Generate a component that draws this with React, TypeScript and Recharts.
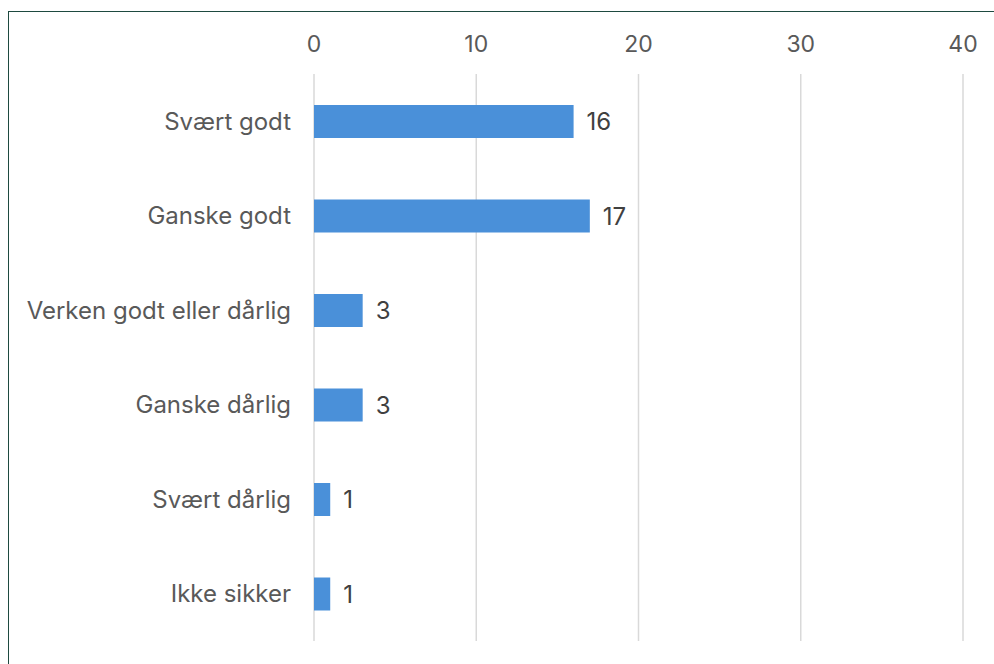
import { BarChart, Bar, XAxis, YAxis, CartesianGrid, LabelList } from 'recharts'

// Survey answers, top to bottom
const categories = [
  'Svært godt',
  'Ganske godt',
  'Verken godt eller dårlig',
  'Ganske dårlig',
  'Svært dårlig',
  'Ikke sikker',
]
const counts = [16, 17, 3, 3, 1, 1]
const xTicks = [0, 10, 20, 30, 40]

const data = categories.map((name, i) => ({ name, value: counts[i] }))

const FONT = 'Inter, "Open Sans", "DejaVu Sans", sans-serif'

export default function App() {
  return (
    <div
      style={{
        position: 'fixed',
        left: 0,
        top: 0,
        width: 994,
        height: 664,
        background: '#fff',
        overflow: 'hidden',
        fontFamily: FONT,
      }}
    >
      {/* frame that runs off the right and bottom edges */}
      <div
        style={{
          position: 'absolute',
          left: 8,
          top: 11,
          width: 1000,
          height: 700,
          border: '1.5px solid #1e4a40',
        }}
      />
      <div style={{ position: 'absolute', left: 0, top: 0 }}>
        <BarChart
          width={994}
          height={664}
          data={data}
          layout="vertical"
          margin={{ top: 0, right: 31, bottom: 23, left: 0 }}
        >
          <CartesianGrid horizontal={false} stroke="#d9d9d9" strokeWidth={1.5} />
          <XAxis
            type="number"
            orientation="top"
            domain={[0, 40]}
            ticks={xTicks}
            axisLine={false}
            tickLine={false}
            tickSize={6}
            tickMargin={16}
            height={74}
            tick={{ fill: '#595959', fontSize: 23, fontFamily: FONT }}
          />
          <YAxis
            type="category"
            dataKey="name"
            width={314}
            axisLine={false}
            tickLine={false}
            tickSize={6}
            tickMargin={17}
            interval={0}
            tick={{ fill: '#595959', fontSize: 24, fontFamily: FONT }}
          />
          <Bar dataKey="value" fill="#4a90d9" barSize={33} isAnimationActive={false}>
            <LabelList
              dataKey="value"
              position="right"
              offset={13}
              fill="#404040"
              fontSize={24}
              fontFamily={FONT}
            />
          </Bar>
        </BarChart>
      </div>
    </div>
  )
}
